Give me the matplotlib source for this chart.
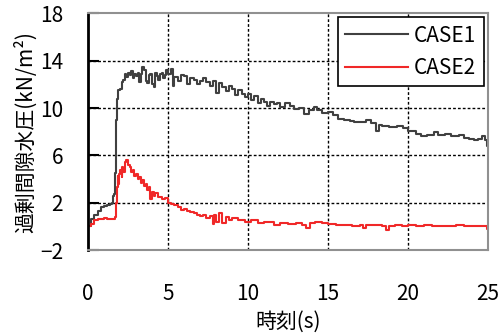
import numpy as np
import matplotlib
matplotlib.use('Agg')
import matplotlib.pyplot as plt

plt.rcParams['font.family'] = ['Noto Sans CJK JP', 'DejaVu Sans']

# CASE1 過剰間隙水圧
t1 = [0.0, 0.2, 0.4, 0.6, 0.8, 1.0, 1.2, 1.4, 1.5, 1.55, 1.65, 1.7, 1.72, 1.75, 1.8, 1.9,
      2.0, 2.1, 2.2, 2.3, 2.4, 2.5, 2.6, 2.7, 2.8, 2.9, 3.0, 3.1, 3.2, 3.3, 3.4, 3.5,
      3.6, 3.7, 3.8, 3.9, 4.0, 4.1, 4.2, 4.3, 4.4, 4.5, 4.6, 4.7, 4.8, 4.9, 5.0, 5.2,
      5.3, 5.4, 5.6, 5.8, 6.0, 6.2, 6.4, 6.6, 6.8, 7.0, 7.2, 7.4, 7.6, 7.8, 8.0, 8.2,
      8.4, 8.6, 8.8, 9.0, 9.2, 9.4, 9.6, 9.8, 10.0, 10.2, 10.4, 10.6, 10.8, 11.0, 11.2,
      11.4, 11.6, 11.8, 12.0, 12.3, 12.6, 12.9, 13.2, 13.5, 13.8, 14.1, 14.3, 14.6, 15.0,
      15.3, 15.6, 16.0, 16.4, 16.6, 17.0, 17.4, 17.7, 18.0, 18.2, 18.4, 18.8, 19.3, 19.7,
      20.0, 20.5, 20.8, 21.2, 21.6, 21.9, 22.3, 22.7, 23.2, 23.5, 23.8, 24.1, 24.4, 24.6,
      24.8, 24.95, 25.0]
p1 = [0.0, 0.6, 1.0, 1.3, 1.6, 1.7, 1.8, 1.9, 2.0, 2.6, 2.7, 4.5, 8.5, 9.0, 10.8, 11.5,
      11.6, 12.2, 12.4, 12.9, 12.6, 13.0, 12.8, 13.1, 12.5, 12.9, 12.7, 13.0, 12.2, 12.9, 13.5, 13.2,
      12.3, 12.1, 12.8, 12.9, 12.0, 11.8, 13.0, 12.7, 12.4, 12.9, 13.0, 12.5, 12.8, 13.2, 12.9, 13.3,
      11.9, 12.6, 12.3, 12.8, 12.7, 12.0, 12.5, 12.4, 12.0, 12.3, 12.5, 12.2, 11.9, 12.3, 11.3, 12.1,
      11.8, 11.4, 11.9, 11.6, 11.1, 11.5, 11.2, 10.9, 11.2, 10.7, 11.0, 10.4, 10.8, 10.5, 10.2,
      10.5, 10.3, 10.4, 10.1, 10.4, 10.2, 9.9, 10.0, 9.5, 9.8, 10.1, 9.8, 9.6, 9.7,
      9.4, 9.1, 9.0, 8.9, 8.8, 8.8, 9.0, 8.7, 8.1, 8.6, 8.5, 8.4, 8.5, 8.3,
      8.1, 7.8, 7.6, 7.7, 8.0, 7.7, 7.8, 7.6, 7.7, 7.5, 7.4, 7.3, 7.4, 7.6,
      7.3, 6.8, 6.8]

# CASE2 過剰間隙水圧
t2 = [0.0, 0.2, 0.4, 0.6, 0.8, 1.0, 1.2, 1.4, 1.6, 1.7, 1.75, 1.8, 1.85, 1.9, 1.95, 2.0,
      2.1, 2.15, 2.2, 2.3, 2.4, 2.5, 2.6, 2.7, 2.8, 2.9, 3.0, 3.1, 3.2, 3.3, 3.4, 3.5,
      3.6, 3.7, 3.8, 3.9, 4.0, 4.1, 4.2, 4.4, 4.6, 4.8, 5.0, 5.2, 5.4, 5.6, 5.8, 6.0,
      6.2, 6.4, 6.6, 6.8, 7.0, 7.2, 7.4, 7.6, 7.8, 7.9, 8.0, 8.2, 8.4, 8.6, 8.8, 9.0,
      9.4, 9.8, 10.2, 10.6, 11.0, 11.6, 12.0, 12.5, 13.0, 13.4, 13.6, 13.9, 14.2, 14.6,
      15.0, 15.5, 16.0, 16.5, 17.0, 17.2, 17.4, 18.0, 18.4, 18.6, 18.8, 19.2, 19.6, 20.0,
      20.5, 21.0, 21.5, 22.0, 22.5, 23.0, 23.5, 24.0, 24.5, 24.8, 24.95, 25.0]
p2 = [0.0, 0.2, 0.5, 0.6, 0.6, 0.7, 0.6, 0.6, 0.6, 0.8, 2.0, 3.3, 4.3, 3.6, 4.4, 4.8,
      4.2, 5.0, 4.6, 5.4, 5.6, 5.2, 5.0, 4.6, 4.8, 4.3, 4.4, 4.0, 4.2, 3.7, 3.9, 3.4,
      3.6, 3.1, 3.3, 2.3, 2.9, 2.6, 2.8, 2.5, 2.3, 2.4, 2.0, 1.9, 1.8, 1.6, 1.4, 1.5,
      1.3, 1.2, 1.1, 1.0, 0.9, 1.0, 0.7, 0.9, 0.2, 1.0, 0.4, 1.1, 0.3, 0.8, 0.5, 0.7,
      0.5, 0.4, 0.5, 0.3, 0.35, 0.1, 0.25, 0.2, 0.25, 0.1, -0.1, 0.3, 0.4, 0.3,
      0.2, 0.1, 0.15, 0.05, 0.1, -0.15, 0.1, 0.1, 0.0, -0.3, 0.0, 0.1, 0.0, 0.1,
      0.05, 0.1, 0.0, 0.05, 0.0, 0.1, 0.0, 0.05, 0.0, 0.05, -0.2, -0.2]

xticks = [0, 5, 10, 15, 20, 25]
yticks = [-2, 2, 6, 10, 14, 18]

fig = plt.figure(figsize=(5.03, 3.33), dpi=100)
ax = fig.add_axes([0.175, 0.249, 0.795, 0.711])

ax.plot(t1, p1, color='#404040', lw=1.5, drawstyle='steps-post', label='CASE1')
ax.plot(t2, p2, color='#f02828', lw=1.5, drawstyle='steps-post', label='CASE2')

ax.set_xlim(0, 25)
ax.set_ylim(-2, 18)
ax.set_xticks(xticks)
ax.set_yticks(yticks)
ax.tick_params(axis='x', length=0, pad=24, labelsize=15)
ax.tick_params(axis='y', direction='in', length=8, width=1.5, pad=18, labelsize=15)

for v in xticks[1:-1]:
    ax.axvline(v, color='black', ls=(0, (2, 1.5)), lw=1.0, zorder=0)
for v in yticks[1:-1]:
    ax.axhline(v, color='black', ls=(0, (2, 1.5)), lw=1.0, zorder=0)

ax.spines['left'].set_color('black')
ax.spines['left'].set_linewidth(2)
for s in ['top', 'right', 'bottom']:
    ax.spines[s].set_color('#909090')
    ax.spines[s].set_linewidth(1.5)

ax.set_xlabel('時刻(s)', fontsize=15, labelpad=4)
ax.set_ylabel('過剰間隙水圧(kN/m²)', fontsize=15, labelpad=2)

leg = ax.legend(loc='upper right', fontsize=15, fancybox=False, framealpha=1,
                edgecolor='black', handlelength=3.0, borderaxespad=0.2,
                borderpad=0.35, labelspacing=0.5, handletextpad=0.3)
leg.get_frame().set_linewidth(1.2)

fig.savefig('out.png', dpi=100)
